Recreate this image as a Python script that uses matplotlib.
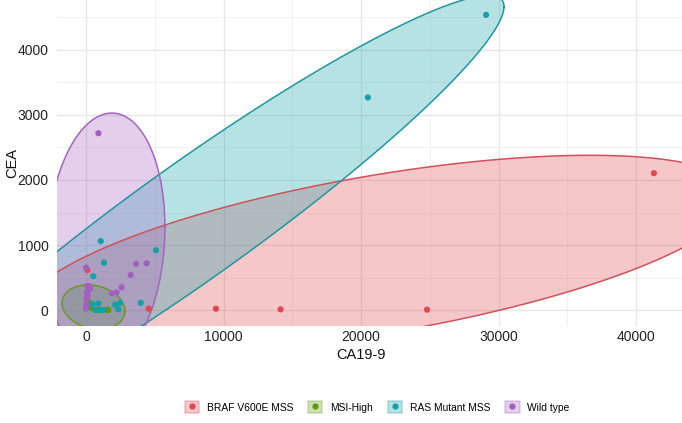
import numpy as np
import matplotlib.pyplot as plt
from matplotlib.patches import Patch
from matplotlib.lines import Line2D

plt.rcParams['font.family'] = ['Liberation Sans', 'DejaVu Sans']

groups = ['BRAF V600E MSS', 'MSI-High', 'RAS Mutant MSS', 'Wild type']

# CA19-9 / CEA values per group
braf_x = [41300, 9450, 14150, 24800, 4560, 100, 100]
braf_y = [2105, 20, 10, 5, 20, 615, 100]

msi_x = [1550, 1620, 180, 900, 400]
msi_y = [5, 0, 125, 0, 30]

ras_x = [29100, 20500, 5090, 1070, 1310, 530, 3980, 2470, 2110, 2350, 900, 490, 660, 1020, 1260]
ras_y = [4540, 3270, 920, 1060, 730, 520, 110, 110, 80, 10, 100, 90, 0, 0, 0]

wt_x = [900, 3640, 4410, 0, 3250, 2590, 1870, 2230, 100, 290, 50, 0, 20, 60, 150, 200, 30, 120]
wt_y = [2720, 710, 720, 650, 540, 350, 260, 270, 370, 330, 180, 20, 100, 260, 300, 370, 60, 220]

# confidence ellipses: centre, half-width, half-height, correlation
ell_cx = [21400, 545, 7800, 1450]
ell_cy = [860, 46, 1370, 1080]
ell_a = [26000, 2290, 22600, 4290]
ell_b = [1520, 340, 3470, 1950]
ell_rho = [0.586, -0.18, 0.950, 0.1]

pt_cols = ['#E0474F', '#5E9A0A', '#13A0A8', '#A35FC0']
line_cols = ['#D2505A', '#6A9A1F', '#1E979F', '#A565BF']

xs = [braf_x, msi_x, ras_x, wt_x]
ys = [braf_y, msi_y, ras_y, wt_y]

fig = plt.figure(figsize=(6.82, 4.23), dpi=100)
ax = fig.add_axes([57/682, 1-326/423, 625/682, 326/423])

t = np.linspace(0, 2*np.pi, 400)
for i in range(4):
    ex = ell_cx[i] + ell_a[i]*np.cos(t)
    ey = ell_cy[i] + ell_b[i]*(ell_rho[i]*np.cos(t) + np.sqrt(1-ell_rho[i]**2)*np.sin(t))
    ax.fill(ex, ey, facecolor=pt_cols[i], alpha=0.3, edgecolor='none', zorder=2)
    ax.plot(ex, ey, color=line_cols[i], lw=1.1, zorder=3)

for i in range(4):
    ax.scatter(xs[i], ys[i], s=20, color=pt_cols[i], edgecolors='none', zorder=4)

ax.set_xlim(-2110, 43345)
ax.set_ylim(-246, 4769)
ax.set_xticks([0, 10000, 20000, 30000, 40000])
ax.set_yticks([0, 1000, 2000, 3000, 4000])
ax.set_xticks([5000, 15000, 25000, 35000], minor=True)
ax.set_yticks([500, 1500, 2500, 3500, 4500], minor=True)
ax.grid(which='major', color='#E6E6E6', lw=0.9, zorder=0)
ax.grid(which='minor', color='#EFEFEF', lw=0.6, zorder=0)
ax.set_axisbelow(True)
for s in ax.spines.values():
    s.set_visible(False)
ax.tick_params(which='both', length=0, labelsize=10, labelcolor='#222222')
ax.tick_params(axis='x', pad=3)
ax.tick_params(axis='y', pad=6)

ax.set_xlabel('CA19-9', fontsize=10.5, color='#111111')
ax.set_ylabel('CEA', fontsize=10.5, color='#111111')
ax.xaxis.set_label_coords(0.486, -0.068)
ax.yaxis.set_label_coords(-0.060, 0.5)

handles = []
for i in range(4):
    box = Patch(facecolor=pt_cols[i], alpha=0.3, edgecolor=line_cols[i], lw=1.1)
    dot = Line2D([], [], ls='none', marker='o', ms=3.5, color=pt_cols[i])
    handles.append((box, dot))
fig.legend(handles, groups, loc='center', bbox_to_anchor=(0.553, 0.037), ncol=4,
           frameon=False, fontsize=7.4, handlelength=1.4, handleheight=1.4,
           columnspacing=1.45, handletextpad=0.75)

fig.savefig('out.png', dpi=100)
